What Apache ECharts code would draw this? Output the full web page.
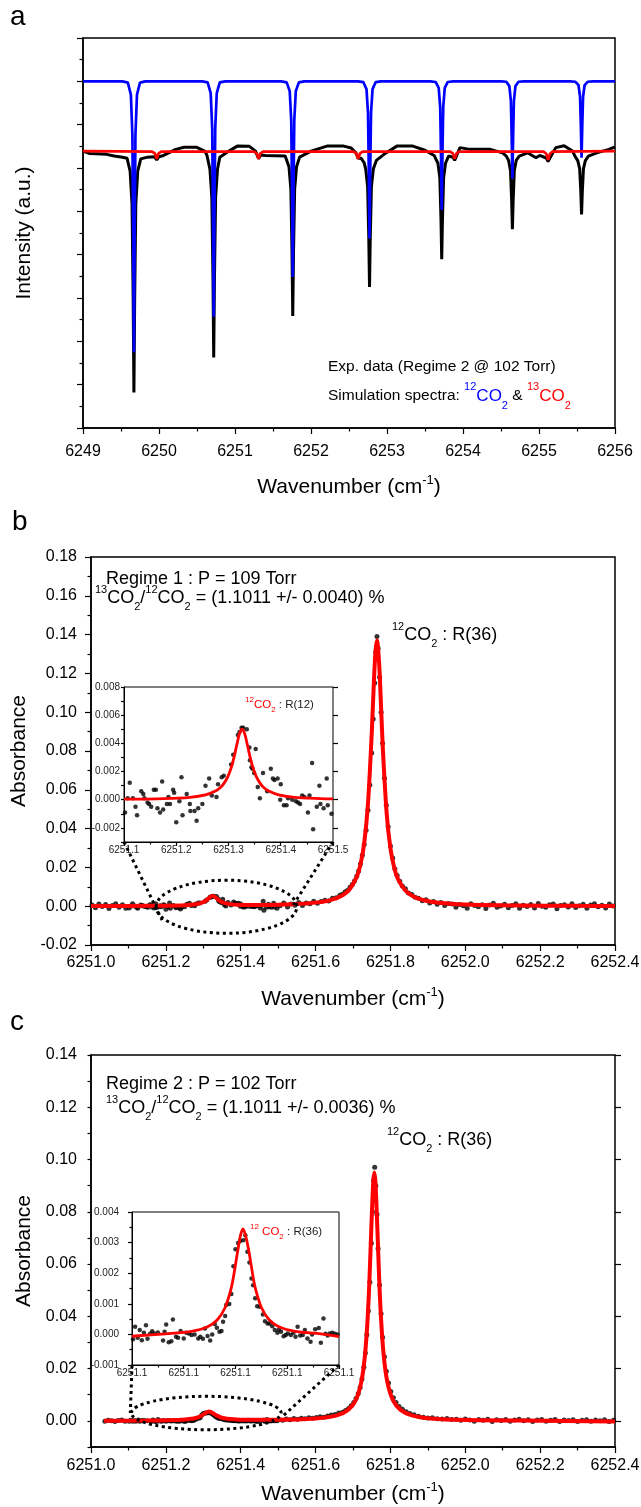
<!DOCTYPE html>
<html>
<head>
<meta charset="utf-8">
<script src="https://cdn.jsdelivr.net/npm/echarts@6/dist/echarts.min.js"></script>
<style>
html,body{margin:0;padding:0;background:#fff;}
#fig{width:641px;height:1507px;}
</style>
</head>
<body>
<div id="fig"></div>
<script>
// ---------- (a) survey spectrum, 6249–6256 cm-1 (arbitrary intensity units) ----------
const aExperiment = [
  [6249.00,12.78],[6249.09,12.67],[6249.31,12.63],[6249.41,12.55],[6249.52,12.5],[6249.58,12.45],
  [6249.62,11.85],[6249.645,10.33],[6249.66,5.98],[6249.67,1.64],[6249.68,5.98],[6249.695,10.33],[6249.72,11.85],
  [6249.76,12.42],[6249.85,12.5],[6249.94,12.52],[6249.97,12.37],[6250.00,12.52],[6250.06,12.58],[6250.22,12.86],
  [6250.33,12.96],[6250.49,12.96],[6250.60,12.78],[6250.63,12.6],
  [6250.67,11.95],[6250.695,10.65],[6250.71,6.96],[6250.72,3.26],[6250.73,6.96],[6250.745,10.65],[6250.77,11.95],
  [6250.80,12.5],[6250.92,12.78],[6251.03,13.01],[6251.19,13.0],[6251.27,12.78],[6251.31,12.43],[6251.34,12.6],
  [6251.40,12.58],[6251.66,12.55],
  [6251.71,12.06],[6251.735,11.03],[6251.75,8.1],[6251.76,5.17],[6251.77,8.1],[6251.785,11.03],[6251.81,12.06],
  [6251.85,12.5],[6252.00,12.78],[6252.21,13.01],[6252.43,13.01],[6252.53,12.92],[6252.59,12.7],[6252.62,12.45],
  [6252.66,12.45],[6252.70,12.24],
  [6252.72,11.95],[6252.745,11.14],[6252.76,8.83],[6252.77,6.51],[6252.78,8.83],[6252.795,11.14],[6252.82,11.95],
  [6252.86,12.35],[6252.96,12.63],[6253.13,13.01],[6253.34,13.01],[6253.50,12.82],[6253.62,12.58],
  [6253.67,12.22],[6253.695,11.56],[6253.71,9.67],[6253.72,7.79],[6253.73,9.67],[6253.745,11.56],[6253.77,12.22],
  [6253.81,12.55],[6253.87,12.5],[6253.89,12.35],[6253.92,12.6],[6253.96,12.94],[6254.09,12.86],[6254.36,12.86],
  [6254.52,12.7],[6254.57,12.55],
  [6254.60,12.35],[6254.625,11.87],[6254.64,10.52],[6254.65,9.17],[6254.66,10.52],[6254.675,11.87],[6254.70,12.35],
  [6254.74,12.55],[6254.85,12.7],[6254.96,12.47],[6255.01,12.58],[6255.10,12.45],[6255.12,12.3],[6255.15,12.5],
  [6255.22,12.94],[6255.33,13.03],[6255.44,12.78],[6255.48,12.5],
  [6255.51,12.34],[6255.535,11.97],[6255.55,10.92],[6255.56,9.86],[6255.57,10.92],[6255.585,11.97],[6255.61,12.34],
  [6255.65,12.55],[6255.76,12.7],[6255.92,12.86],[6256.00,12.98]
];
const aSim12CO2 = [
  [6249.00,16],
  [6249.52,16],[6249.59,15.94],[6249.63,15.38],[6249.65,13.5],[6249.66,9.13],[6249.67,3.5],[6249.68,9.13],[6249.69,13.5],[6249.71,15.38],[6249.75,15.94],[6249.82,16],
  [6250.57,16],[6250.64,15.95],[6250.68,15.46],[6250.70,13.83],[6250.71,10.02],[6250.72,5.13],[6250.73,10.02],[6250.74,13.83],[6250.76,15.46],[6250.80,15.95],[6250.87,16],
  [6251.61,16],[6251.68,15.95],[6251.72,15.55],[6251.74,14.19],[6251.75,11.03],[6251.76,6.97],[6251.77,11.03],[6251.78,14.19],[6251.80,15.55],[6251.84,15.95],[6251.91,16],
  [6252.62,16],[6252.69,15.96],[6252.73,15.64],[6252.75,14.55],[6252.76,12.01],[6252.77,8.74],[6252.78,12.01],[6252.79,14.55],[6252.81,15.64],[6252.85,15.96],[6252.92,16],
  [6253.57,16],[6253.64,15.97],[6253.68,15.7],[6253.70,14.81],[6253.71,12.73],[6253.72,10.06],[6253.73,12.73],[6253.74,14.81],[6253.76,15.7],[6253.80,15.97],[6253.87,16],
  [6254.50,16],[6254.57,15.98],[6254.61,15.78],[6254.63,15.1],[6254.64,13.54],[6254.65,11.52],[6254.66,13.54],[6254.67,15.1],[6254.69,15.78],[6254.73,15.98],[6254.80,16],
  [6255.41,16],[6255.48,15.98],[6255.52,15.82],[6255.54,15.29],[6255.55,14.06],[6255.56,12.47],[6255.57,14.06],[6255.58,15.29],[6255.60,15.82],[6255.64,15.98],[6255.71,16],
  [6256.00,16]
];
const aSim13CO2 = [
  [6249.00,12.78],
  [6249.91,12.76],[6249.945,12.68],[6249.97,12.43],[6249.995,12.68],[6250.03,12.76],
  [6251.25,12.76],[6251.285,12.68],[6251.31,12.43],[6251.335,12.68],[6251.37,12.76],
  [6252.56,12.76],[6252.595,12.68],[6252.62,12.43],[6252.645,12.68],[6252.68,12.76],
  [6253.83,12.76],[6253.865,12.68],[6253.89,12.43],[6253.915,12.68],[6253.95,12.76],
  [6255.06,12.76],[6255.095,12.66],[6255.12,12.37],[6255.145,12.66],[6255.18,12.76],
  [6256.00,12.78]
];

// ---------- (b) Regime 1, 109 Torr ----------
const bPointsLow = [
  [6251.003,0.0006],[6251.012,-0.0008],[6251.021,0.0011],[6251.030,-0.0002],[6251.039,0.0009],[6251.048,-0.0012],
  [6251.057,0.0004],[6251.066,0.0013],[6251.075,-0.0006],[6251.084,0.0008],[6251.093,-0.0010]
];
const bPointsR12 = [
  [6251.102,-0.0009],[6251.107,0.0001],[6251.111,0.0012],[6251.117,0.0001],[6251.122,-0.0005],[6251.125,-0.0011],
  [6251.133,0.0006],[6251.137,0.0004],[6251.139,0.0001],[6251.145,-0.0002],[6251.148,-0.0003],[6251.152,-0.0005],
  [6251.157,0.0007],[6251.161,0.0007],[6251.164,-0.0006],[6251.169,-0.0009],[6251.173,0.0013],[6251.175,-0.0007],
  [6251.182,-0.0003],[6251.185,0.0002],[6251.188,-0.0003],[6251.194,0.0007],[6251.196,0.0005],[6251.200,-0.0016],
  [6251.206,-0.0001],[6251.210,0.0016],[6251.212,-0.0011],[6251.220,0.0004],[6251.226,-0.0003],[6251.227,-0.0008],
  [6251.235,-0.0008],[6251.239,-0.0015],[6251.242,-0.0006],[6251.250,-0.0003],[6251.256,0.0010],[6251.263,0.0015],
  [6251.268,0.0003],[6251.277,0.0002],[6251.280,0.0011],[6251.287,0.0016],[6251.291,0.0017],[6251.305,0.0025],
  [6251.309,0.0032],[6251.318,0.0046],[6251.321,0.0048],[6251.325,0.0051],[6251.328,0.0051],[6251.335,0.0050],
  [6251.340,0.0037],[6251.341,0.0028],[6251.344,0.0023],[6251.346,0.0022],[6251.349,0.0019],[6251.352,0.0036],
  [6251.356,0.0009],[6251.360,0.0001],[6251.366,0.0019],[6251.374,0.0006],[6251.381,0.0022],[6251.385,0.0015],
  [6251.388,0.0014],[6251.394,0.0015],[6251.399,0.0000],[6251.400,0.0011],[6251.406,-0.0004],[6251.411,-0.0004],
  [6251.414,0.0001],[6251.422,0.0000],[6251.429,-0.0001],[6251.433,-0.0002],[6251.437,-0.0003],[6251.441,0.0003],
  [6251.445,0.0002],[6251.452,-0.0009],[6251.455,0.0003],[6251.460,0.0026],[6251.462,-0.0021],[6251.469,-0.0005],
  [6251.474,0.0010],[6251.476,-0.0003],[6251.482,-0.0006],[6251.488,0.0015],[6251.490,-0.0004],[6251.497,-0.0010]
];
const bPointsR36 = [
  [6251.505,0.0002],[6251.515,0.0016],[6251.525,-0.0004],[6251.535,0.0011],[6251.545,0.0005],[6251.555,0.0019],
  [6251.565,0.0003],[6251.575,0.0017],[6251.585,0.0012],[6251.595,0.0026],[6251.605,0.0015],[6251.615,0.0024],
  [6251.625,0.0031],[6251.635,0.0027],[6251.645,0.0041],[6251.655,0.0043],[6251.665,0.0056],[6251.672,0.0061],
  [6251.679,0.0075],[6251.686,0.0082],[6251.692,0.0098],[6251.698,0.0112],[6251.704,0.0130],[6251.710,0.0155],
  [6251.715,0.0182],[6251.720,0.0218],[6251.725,0.0262],[6251.730,0.0318],[6251.735,0.0392],[6251.740,0.0495],
  [6251.745,0.0625],[6251.750,0.0790],[6251.754,0.0965],[6251.758,0.1150],[6251.761,0.1310],[6251.764,0.1390],
  [6251.767,0.1330],[6251.771,0.1180],[6251.775,0.1000],[6251.779,0.0840],[6251.784,0.0660],[6251.789,0.0520],
  [6251.794,0.0410],[6251.800,0.0310],[6251.806,0.0248],[6251.812,0.0192],[6251.818,0.0158],[6251.825,0.0128],
  [6251.832,0.0104],[6251.840,0.0090],[6251.848,0.0068],[6251.857,0.0060],[6251.866,0.0046],[6251.875,0.0041],
  [6251.885,0.0028],[6251.895,0.0033],[6251.905,0.0017],[6251.915,0.0024],[6251.925,0.0010],[6251.935,0.0019],
  [6251.945,0.0004],[6251.955,0.0014],[6251.965,0.0011],[6251.975,-0.0006],[6251.985,0.0009],[6251.995,0.0002],
  [6252.005,-0.0010],[6252.015,0.0013],[6252.025,0.0004],[6252.035,-0.0003],[6252.045,0.0008],[6252.055,-0.0012],
  [6252.065,0.0006],[6252.075,0.0015],[6252.085,-0.0005],[6252.095,0.0001],[6252.105,0.0010],[6252.115,-0.0008],
  [6252.125,0.0003],[6252.135,0.0012],[6252.145,-0.0011],[6252.155,0.0005],[6252.165,-0.0002],[6252.175,0.0009],
  [6252.185,-0.0009],[6252.195,0.0014],[6252.205,0.0000],[6252.215,-0.0006],[6252.225,0.0007],[6252.235,0.0011],
  [6252.245,-0.0013],[6252.255,0.0004],[6252.265,0.0008],[6252.275,-0.0004],[6252.285,0.0013],[6252.295,-0.0007],
  [6252.305,0.0002],[6252.315,0.0010],[6252.325,-0.0010],[6252.335,0.0006],[6252.345,0.0012],[6252.355,-0.0003],
  [6252.365,0.0005],[6252.375,-0.0009],[6252.385,0.0011],[6252.395,0.0001]
];
const bFit = [
  [6251.0,0.0001],[6251.1,0.00015],[6251.2,0.00027],[6251.25,0.00049],[6251.28,0.00097],[6251.3,0.00206],
  [6251.31,0.00332],[6251.32,0.00493],[6251.325,0.00525],[6251.33,0.00494],[6251.34,0.00335],[6251.35,0.00211],
  [6251.37,0.00107],[6251.4,0.00068],[6251.45,0.00061],[6251.5,0.00076],[6251.55,0.00111],[6251.6,0.00184],
  [6251.64,0.00316],[6251.67,0.00539],[6251.69,0.00847],[6251.71,0.0151],[6251.72,0.02153],[6251.73,0.0326],
  [6251.74,0.0528],[6251.75,0.0888],[6251.755,0.1119],[6251.76,0.1312],[6251.764,0.137],[6251.77,0.1246],
  [6251.775,0.1026],[6251.78,0.0802],[6251.79,0.0477],[6251.8,0.02985],[6251.81,0.01997],[6251.82,0.01414],
  [6251.84,0.00806],[6251.86,0.00516],[6251.89,0.00305],[6251.93,0.00177],[6252.0,0.00088],[6252.1,0.00044],
  [6252.2,0.00026],[6252.3,0.00017],[6252.4,0.00012]
];
const bFitR12 = [
  [6251.1,0.00004],[6251.176,0.00008],[6251.226,0.00017],[6251.256,0.00034],[6251.276,0.00063],[6251.284,0.00085],
  [6251.291,0.00114],[6251.299,0.00166],[6251.306,0.00237],[6251.311,0.00308],[6251.316,0.00392],[6251.321,0.00468],
  [6251.326,0.005],[6251.331,0.00468],[6251.336,0.00392],[6251.341,0.00308],[6251.346,0.00237],[6251.353,0.00166],
  [6251.361,0.00114],[6251.368,0.00085],[6251.376,0.00063],[6251.396,0.00034],[6251.426,0.00017],[6251.476,0.00008],
  [6251.5,0.00006]
];

// ---------- (c) Regime 2, 102 Torr ----------
const cPointsLow = [
  [6251.037,-0.0001],[6251.046,0.0002],[6251.055,0.0000],[6251.064,-0.0002],[6251.073,0.0001],[6251.082,0.0003],[6251.091,-0.0001]
];
const cPointsWeak = [
  [6251.102,-0.00016],[6251.106,0.00025],[6251.111,-0.00011],[6251.115,0.00014],[6251.119,-0.00019],[6251.123,0.00005],
  [6251.127,0.0003],[6251.130,-0.00014],[6251.135,0.00002],[6251.139,0.0001],[6251.143,0.00003],[6251.150,0.00006],
  [6251.160,-0.0002],[6251.163,0.00009],[6251.166,0.00032],[6251.171,-0.00026],[6251.176,-0.00022],[6251.179,0.00049],
  [6251.185,-0.00008],[6251.189,-0.00011],[6251.194,0.00011],[6251.200,-0.00013],[6251.205,0.00005],[6251.210,0.00003],
  [6251.215,-0.00002],[6251.221,0.0],[6251.228,-0.00013],[6251.232,-0.00008],[6251.237,-0.00014],[6251.241,0.00019],
  [6251.246,-0.00005],[6251.251,-0.0002],[6251.255,0.0],[6251.260,0.00034],[6251.264,0.00022],[6251.269,0.00009],
  [6251.273,0.00011],[6251.276,0.00041],[6251.280,0.0006],[6251.282,0.00096],[6251.288,0.00099],[6251.292,0.00132],
  [6251.296,0.00223],[6251.300,0.00278],[6251.305,0.00299],[6251.309,0.00305],[6251.315,0.00308],[6251.319,0.00324],
  [6251.323,0.0027],[6251.327,0.00235],[6251.331,0.00183],[6251.334,0.00161],[6251.338,0.00118],[6251.342,0.00092],
  [6251.347,0.0009],[6251.353,0.00065],[6251.357,0.00043],[6251.362,0.00036],[6251.366,0.00036],[6251.371,0.00027],
  [6251.376,0.00014],[6251.381,0.00005],[6251.384,0.00016],[6251.388,0.00009],[6251.393,-0.00006],[6251.397,-0.00002],
  [6251.401,0.00003],[6251.407,-0.00002],[6251.412,0.00005],[6251.416,-0.00008],[6251.420,0.00025],[6251.425,-0.00004],
  [6251.430,-0.00002],[6251.434,0.00014],[6251.439,-0.00013],[6251.445,-0.00024],[6251.448,0.0],[6251.454,0.00017],
  [6251.461,0.00021],[6251.465,-0.00027],[6251.470,0.00052],[6251.474,0.00002],[6251.478,-0.00004],[6251.482,0.00003],
  [6251.487,0.00005],[6251.492,0.00002],[6251.497,0.0]
];
const cPointsR36 = [
  [6251.502,0.0004],[6251.512,0.0002],[6251.522,0.0007],[6251.532,0.0004],[6251.542,0.0009],[6251.552,0.0006],
  [6251.562,0.0010],[6251.572,0.0008],[6251.582,0.0012],[6251.592,0.0010],[6251.602,0.0013],[6251.612,0.0016],
  [6251.622,0.0014],[6251.632,0.0019],[6251.642,0.0022],[6251.652,0.0024],[6251.662,0.0030],[6251.672,0.0033],
  [6251.680,0.0040],[6251.688,0.0047],[6251.695,0.0058],[6251.702,0.0070],[6251.708,0.0086],[6251.714,0.0105],
  [6251.719,0.0128],[6251.724,0.0160],[6251.729,0.0205],[6251.733,0.0260],[6251.737,0.0330],[6251.741,0.0420],
  [6251.745,0.0530],[6251.749,0.0680],[6251.752,0.0800],[6251.755,0.0920],[6251.758,0.0970],[6251.761,0.0900],
  [6251.764,0.0790],[6251.767,0.0660],[6251.771,0.0520],[6251.775,0.0410],[6251.779,0.0320],[6251.784,0.0245],
  [6251.789,0.0190],[6251.795,0.0145],[6251.801,0.0112],[6251.808,0.0088],[6251.815,0.0070],[6251.823,0.0055],
  [6251.832,0.0044],[6251.842,0.0035],[6251.852,0.0028],[6251.863,0.0023],[6251.875,0.0018],[6251.888,0.0014],
  [6251.900,0.0011],[6251.912,0.0012],[6251.925,0.0008],[6251.938,0.0007],[6251.951,0.0009],[6251.964,0.0005],
  [6251.976,0.0006],[6251.988,0.0002],[6252.000,0.0007],[6252.012,0.0003],[6252.024,-0.0001],[6252.036,0.0005],
  [6252.048,0.0002],[6252.060,0.0006],[6252.072,-0.0002],[6252.084,0.0004],[6252.096,0.0001],[6252.108,0.0005],
  [6252.120,-0.0001],[6252.132,0.0003],[6252.144,0.0006],[6252.156,0.0000],[6252.168,0.0004],[6252.180,-0.0002],
  [6252.192,0.0003],[6252.204,0.0005],[6252.216,-0.0001],[6252.228,0.0002],[6252.240,0.0005],[6252.252,-0.0002],
  [6252.264,0.0003],[6252.276,0.0001],[6252.288,0.0004],[6252.300,-0.0002],[6252.312,0.0002],[6252.324,0.0004],
  [6252.336,-0.0001],[6252.348,0.0003],[6252.360,0.0000],[6252.372,0.0004],[6252.384,-0.0002],[6252.396,0.0002]
];
const cFit = [
  [6251.035,0.0],[6251.15,0.0001],[6251.22,0.0003],[6251.25,0.0005],[6251.28,0.0011],[6251.295,0.002],
  [6251.305,0.0029],[6251.315,0.0036],[6251.325,0.003],[6251.335,0.0021],[6251.35,0.0012],[6251.38,0.0006],
  [6251.42,0.0004],[6251.5,0.0004],[6251.6,0.0009],[6251.657,0.0021],[6251.687,0.0042],[6251.707,0.0078],
  [6251.722,0.0147],[6251.732,0.0251],[6251.739,0.0389],[6251.744,0.0542],[6251.749,0.074],[6251.754,0.0913],
  [6251.757,0.095],[6251.760,0.0913],[6251.765,0.074],[6251.770,0.0542],[6251.775,0.0389],[6251.782,0.0251],
  [6251.792,0.0147],[6251.807,0.0078],[6251.827,0.0042],[6251.857,0.0021],[6251.907,0.0009],[6252.007,0.0003],
  [6252.157,0.0001],[6252.4,-0.0002]
];
const cFitWeak = [
  [6251.1,-0.00006],[6251.165,0.00002],[6251.215,0.0001],[6251.245,0.00024],[6251.265,0.00048],[6251.28,0.00088],
  [6251.29,0.0014],[6251.295,0.00178],[6251.305,0.0028],[6251.31,0.00326],[6251.3145,0.00345],[6251.319,0.00326],
  [6251.325,0.0028],[6251.335,0.00178],[6251.34,0.0014],[6251.35,0.00088],[6251.365,0.00048],[6251.385,0.00024],
  [6251.415,0.0001],[6251.465,0.00002],[6251.5,-0.00007]
];
const cWeakTickLabels = ['6251.1', '6251.1', '6251.1', '6251.1', '6251.1'];

// ---------- styling ----------
const FONT = "'Liberation Sans', Arial, Helvetica, sans-serif";
const BLUE = '#0000ff', RED = '#ff0000';

function axis(o) {
  const ax = {
    type: 'value', gridIndex: o.grid, min: o.min, max: o.max, interval: o.interval,
    axisLine: { show: true, onZero: false, lineStyle: { color: '#000', width: o.lw || 1.5 } },
    axisTick: { show: true, length: o.tick || 6, lineStyle: { color: '#000', width: 1.2 } },
    minorTick: { show: !!o.minor, splitNumber: 2, length: o.minorLen || 3.5, lineStyle: { color: '#000', width: 1.2 } },
    splitLine: { show: false },
    axisLabel: {
      show: o.labels !== false, color: o.labelColor || '#000', fontFamily: FONT,
      fontSize: o.fs || 16, margin: o.margin || 8, formatter: o.fmt
    }
  };
  if (o.name) {
    ax.name = o.name; ax.nameLocation = 'middle'; ax.nameGap = o.nameGap;
    ax.nameTextStyle = {
      color: '#000', fontFamily: FONT, fontSize: 21,
      rich: {
        t: { color: '#000', fontFamily: FONT, fontSize: 21, lineHeight: 26, verticalAlign: 'middle' },
        s: { color: '#000', fontFamily: FONT, fontSize: 13, lineHeight: 12, verticalAlign: 'top' }
      }
    };
  }
  return ax;
}
// extra tick-only axis used to lengthen the labelled ticks
function longTicks(grid, min, max, interval, values, len) {
  return {
    type: 'value', gridIndex: grid, min, max, interval,
    axisLine: { show: false }, axisLabel: { show: false }, splitLine: { show: false },
    minorTick: { show: false },
    axisTick: { show: true, length: len, customValues: values, lineStyle: { color: '#000', width: 1.2 } }
  };
}
const WN = '{t|Wavenumber (cm}{s|-1}{t|)}';
const evenHundredths = v => (Math.round(v * 100) % 2 === 0 ? v.toFixed(2) : '');
const evenThousandths = v => (Math.round(v * 1000) % 2 === 0 ? v.toFixed(3) : '');

const chart = echarts.init(document.getElementById('fig'), null, { renderer: 'canvas', width: 641, height: 1507 });

const gridBase = { show: true, borderColor: '#000', borderWidth: 1.5, backgroundColor: 'transparent', containLabel: false, outerBoundsMode: 'none' };
const option = {
  animation: false,
  backgroundColor: '#fff',
  textStyle: { fontFamily: FONT },
  grid: [
    Object.assign({}, gridBase, { left: 83, top: 38, width: 532, height: 390 }),
    Object.assign({}, gridBase, { left: 91, top: 557, width: 524, height: 388 }),
    Object.assign({}, gridBase, { left: 124, top: 687, width: 209, height: 155, borderWidth: 1, backgroundColor: '#fff' }),
    Object.assign({}, gridBase, { left: 91, top: 1055, width: 524, height: 392 }),
    Object.assign({}, gridBase, { left: 132, top: 1212, width: 207, height: 153, borderWidth: 1, backgroundColor: '#fff' })
  ],
  xAxis: [
    axis({ grid: 0, min: 6249, max: 6256, interval: 1, minor: true, margin: 16, fmt: v => v.toFixed(0), name: WN, nameGap: 46 }),
    axis({ grid: 1, min: 6251.0, max: 6252.4, interval: 0.2, minor: true, margin: 10, fmt: v => v.toFixed(1), name: WN, nameGap: 41 }),
    axis({ grid: 2, min: 6251.1, max: 6251.5, interval: 0.1, minor: true, lw: 1, tick: 4, minorLen: 2.5, fs: 10, margin: 3, labelColor: '#222', fmt: v => v.toFixed(1) }),
    axis({ grid: 3, min: 6251.0, max: 6252.4, interval: 0.2, minor: true, margin: 11, fmt: v => v.toFixed(1), name: WN, nameGap: 34 }),
    axis({ grid: 4, min: 6251.1, max: 6251.5, interval: 0.1, minor: true, lw: 1, tick: 4, minorLen: 2.5, fs: 10, margin: 3, labelColor: '#222', fmt: (v, i) => cWeakTickLabels[i] })
  ],
  yAxis: [
    axis({ grid: 0, min: 0, max: 18, interval: 2, minor: true, labels: false, name: 'Intensity (a.u.)', nameGap: 48 }),
    axis({ grid: 1, min: -0.02, max: 0.18, interval: 0.02, minor: true, margin: 14, fmt: v => v.toFixed(2), name: 'Absorbance', nameGap: 52 }),
    axis({ grid: 2, min: -0.003, max: 0.008, interval: 0.001, lw: 1, tick: 3, fs: 10, margin: 4, labelColor: '#222', fmt: evenThousandths }),
    longTicks(2, -0.003, 0.008, 0.001, [-0.002, 0, 0.002, 0.004, 0.006, 0.008], 5),
    axis({ grid: 3, min: -0.01, max: 0.14, interval: 0.01, tick: 3.5, margin: 14, fmt: evenHundredths, name: 'Absorbance', nameGap: 52 }),
    longTicks(3, -0.01, 0.14, 0.01, [0, 0.02, 0.04, 0.06, 0.08, 0.10, 0.12, 0.14], 6),
    axis({ grid: 4, min: -0.001, max: 0.004, interval: 0.001, minor: true, lw: 1, tick: 4, minorLen: 2.5, fs: 10, margin: 13, labelColor: '#222', fmt: v => v.toFixed(3) })
  ],
  series: [
    { type: 'line', xAxisIndex: 0, yAxisIndex: 0, data: aExperiment, showSymbol: false, lineStyle: { color: '#000', width: 3 }, z: 2 },
    { type: 'line', xAxisIndex: 0, yAxisIndex: 0, data: aSim12CO2, showSymbol: false, lineStyle: { color: BLUE, width: 2.7 }, z: 3 },
    { type: 'line', xAxisIndex: 0, yAxisIndex: 0, data: aSim13CO2, showSymbol: false, lineStyle: { color: RED, width: 2.7 }, z: 4 },

    { type: 'scatter', xAxisIndex: 1, yAxisIndex: 1, data: bPointsLow.concat(bPointsR12, bPointsR36), symbolSize: 5, itemStyle: { color: '#000' }, z: 2 },
    { type: 'line', xAxisIndex: 1, yAxisIndex: 1, data: bFit, showSymbol: false, smooth: 0.3, lineStyle: { color: RED, width: 4 }, z: 3 },
    { type: 'scatter', xAxisIndex: 2, yAxisIndex: 2, data: bPointsR12, symbolSize: 4.5, itemStyle: { color: '#000' }, z: 6 },
    { type: 'line', xAxisIndex: 2, yAxisIndex: 2, data: bFitR12, showSymbol: false, smooth: 0.3, lineStyle: { color: RED, width: 2.8 }, z: 7 },

    { type: 'scatter', xAxisIndex: 3, yAxisIndex: 4, data: cPointsLow.concat(cPointsWeak, cPointsR36), symbolSize: 5, itemStyle: { color: '#000' }, z: 2 },
    { type: 'line', xAxisIndex: 3, yAxisIndex: 4, data: cFit, showSymbol: false, smooth: 0.3, lineStyle: { color: RED, width: 4 }, z: 3 },
    { type: 'scatter', xAxisIndex: 4, yAxisIndex: 6, data: cPointsWeak, symbolSize: 4.5, itemStyle: { color: '#000' }, z: 6 },
    { type: 'line', xAxisIndex: 4, yAxisIndex: 6, data: cFitWeak, showSymbol: false, smooth: 0.3, lineStyle: { color: RED, width: 2.8 }, z: 7 }
  ]
};
chart.setOption(option);

// ---------- annotations ----------
function richSet(size, sub, color, lh) {
  return {
    t: { fontFamily: FONT, fontSize: size, fill: color || '#000', lineHeight: lh, verticalAlign: 'middle' },
    s: { fontFamily: FONT, fontSize: sub, fill: color || '#000', lineHeight: sub + 1, verticalAlign: 'top' },
    d: { fontFamily: FONT, fontSize: sub, fill: color || '#000', lineHeight: sub + 1, verticalAlign: 'bottom' }
  };
}
function text(x, y, str, rich, size, color) {
  return {
    type: 'text', x, y, z: 100, silent: true,
    style: { text: str, rich, fontFamily: FONT, fontSize: size, fill: color || '#000', align: 'left', verticalAlign: 'middle' }
  };
}
const r18 = richSet(18, 11, '#000', 28);
const simRich = {
  t: { fontFamily: FONT, fontSize: 15.5, fill: '#000', lineHeight: 30, verticalAlign: 'middle' },
  bs: { fontFamily: FONT, fontSize: 11, fill: BLUE, lineHeight: 12, verticalAlign: 'top' },
  b: { fontFamily: FONT, fontSize: 17, fill: BLUE, lineHeight: 30, verticalAlign: 'middle' },
  bd: { fontFamily: FONT, fontSize: 11, fill: BLUE, lineHeight: 12, verticalAlign: 'bottom' },
  rs: { fontFamily: FONT, fontSize: 11, fill: RED, lineHeight: 12, verticalAlign: 'top' },
  r: { fontFamily: FONT, fontSize: 17, fill: RED, lineHeight: 30, verticalAlign: 'middle' },
  rd: { fontFamily: FONT, fontSize: 11, fill: RED, lineHeight: 12, verticalAlign: 'bottom' }
};
const insetRich = {
  s: { fontFamily: FONT, fontSize: 8, fill: RED, lineHeight: 8, verticalAlign: 'top' },
  r: { fontFamily: FONT, fontSize: 11.5, fill: RED, lineHeight: 18, verticalAlign: 'middle' },
  d: { fontFamily: FONT, fontSize: 8, fill: RED, lineHeight: 8, verticalAlign: 'bottom' },
  k: { fontFamily: FONT, fontSize: 11.5, fill: '#222', lineHeight: 18, verticalAlign: 'middle' }
};

const graphics = [
  text(10, 17, 'a', null, 28),
  text(12, 522, 'b', null, 28),
  text(10, 1022, 'c', null, 28),

  text(328, 367, 'Exp. data (Regime 2 @ 102 Torr)', null, 15.5),
  text(328, 396, '{t|Simulation spectra: }{bs|12}{b|CO}{bd|2}{t| & }{rs|13}{r|CO}{rd|2}', simRich, 15.5),

  text(106, 579, '{t|Regime 1 : P = 109 Torr}', r18, 18),
  text(95, 598, '{s|13}{t|CO}{d|2}{t|/}{s|12}{t|CO}{d|2}{t| = (1.1011 +/- 0.0040) %}', r18, 18),
  text(392, 635, '{s|12}{t|CO}{d|2}{t| : R(36)}', r18, 18),
  text(245, 705, '{s|12}{r|CO}{d|2}{k| : R(12)}', insetRich, 11.5),

  text(106, 1084, '{t|Regime 2 : P = 102 Torr}', r18, 18),
  text(106, 1108, '{s|13}{t|CO}{d|2}{t|/}{s|12}{t|CO}{d|2}{t| = (1.1011 +/- 0.0036) %}', r18, 18),
  text(387, 1140, '{s|12}{t|CO}{d|2}{t| : R(36)}', r18, 18),
  text(250, 1232, '{s|12}{r| CO}{d|2}{k| : R(36)}', insetRich, 11.5)
];

// dotted loupe around the weak line and the guide lines to its enlarged view
const loupes = [
  { main: [1, 1], zoom: [2, 2], center: [6251.362, -0.0003], half: [0.188, 0.0137],
    links: [[[6251.1, -0.003], [6251.19, -0.0072]], [[6251.5, -0.003], [6251.535, -0.001]]] },
  { main: [3, 4], zoom: [4, 6], center: [6251.308, 0.003], half: [0.2, 0.0064],
    links: [[[6251.1, -0.001], [6251.105, 0.003]], [[6251.5, -0.001], [6251.51, 0.0015]]] }
];
const dotted = { stroke: '#000', lineWidth: 3, lineDash: [3, 3.5], fill: null };
loupes.forEach(L => {
  const toMain = p => chart.convertToPixel({ xAxisIndex: L.main[0], yAxisIndex: L.main[1] }, p);
  const toZoom = p => chart.convertToPixel({ xAxisIndex: L.zoom[0], yAxisIndex: L.zoom[1] }, p);
  const c = toMain(L.center);
  const e = toMain([L.center[0] + L.half[0], L.center[1] + L.half[1]]);
  graphics.push({ type: 'ellipse', z: 40, silent: true,
    shape: { cx: c[0], cy: c[1], rx: Math.abs(e[0] - c[0]), ry: Math.abs(c[1] - e[1]) },
    style: Object.assign({}, dotted) });
  L.links.forEach(([from, to]) => {
    const a = toZoom(from), b = toMain(to);
    graphics.push({ type: 'line', z: 40, silent: true,
      shape: { x1: a[0], y1: a[1], x2: b[0], y2: b[1] }, style: Object.assign({}, dotted) });
  });
});
chart.setOption({ graphic: graphics });
</script>
</body>
</html>
